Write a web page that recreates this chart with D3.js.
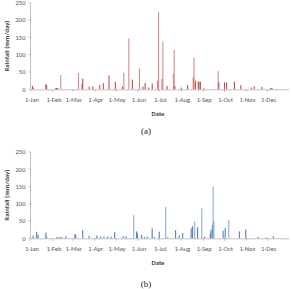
<!DOCTYPE html>
<html><head><meta charset="utf-8">
<script src="https://cdn.jsdelivr.net/npm/d3@7"></script>
<style>body{margin:0;background:#fff}svg{display:block}</style>
</head><body>
<svg id="c" width="291" height="289"></svg>
<script>
const monthLabels = ["1-Jan","1-Feb","1-Mar","1-Apr","1-May","1-Jun","1-Jul","1-Aug","1-Sep","1-Oct","1-Nov","1-Dec"];
const yTicks = [0,50,100,150,200,250];
// chart (a): day-of-year (0 = 1-Jan) and rainfall (mm/day)
const daysA = [2,3,21,22,35,36,37,38,42,67,72,73,82,87,97,102,110,119,129,131,138,143,153,158,161,166,171,179,180,185,186,192,201,202,203,212,221,229,230,232,236,237,239,244,264,265,273,276,287,296,311,315,326,338,340];
const valsA = [10,5,15,12,4,4,4,3,41,47,15,31,8,8,12,18,40,22,8,48,147,28,60,8,18,5,17,25,224,30,138,10,45,114,10,5,12,35,91,25,22,22,22,3,53,20,20,20,22,12,5,8,7,4,4];
// chart (b)
const daysB = [3,8,10,21,22,36,38,40,42,44,49,62,63,73,82,93,98,103,108,113,118,130,134,145,149,150,156,160,164,171,174,181,190,193,204,209,214,226,228,231,235,241,245,253,254,256,257,258,271,274,279,294,303,320,332,342];
const valsB = [8,19,10,17,5,3,3,3,3,3,6,12,10,24,7,8,5,5,5,5,18,6,6,67,20,15,10,4,5,29,4,19,91,3,24,8,15,29,35,50,32,87,5,15,25,40,149,50,22,30,53,20,26,4,3,6];

const svg = d3.select("#c");
const year = 2001;
const dayToDate = d => d3.timeDay.offset(new Date(year,0,1), d);
const x = d3.scaleTime().domain([new Date(year,0,1), new Date(year,11,31)]).range([31, 289]);
const font = "Carlito, 'Liberation Sans', Arial, sans-serif";

function panel(days, vals, top, bottom, fill, light, label, labelY) {
  const y = d3.scaleLinear().domain([0,250]).range([bottom, top]);
  const g = svg.append("g");
  g.append("line").attr("x1",30.5).attr("x2",30.5).attr("y1",top).attr("y2",bottom).attr("stroke","#a6a6a6").attr("stroke-width",0.7);
  g.selectAll(".yt").data(yTicks).join("line").attr("x1",28.5).attr("x2",30.5)
    .attr("y1",d=>y(d)).attr("y2",d=>y(d)).attr("stroke","#a6a6a6").attr("stroke-width",0.7);
  g.selectAll(".yl").data(yTicks).join("text").attr("x",25.5).attr("y",d=>y(d)+2.3)
    .attr("text-anchor","end").attr("font-size",6.6).attr("fill","#595959").attr("font-family",font).text(d=>d);
  const bw = 1.1;
  g.selectAll(".b").data(days.map((d,i)=>({d, v: vals[i]}))).join("rect")
    .attr("x", d => x(dayToDate(d.d)) - bw/2)
    .attr("y", d => y(d.v))
    .attr("width", bw)
    .attr("height", d => bottom - y(d.v))
    .attr("fill", d => d.v > 40 ? light : fill);
  g.append("line").attr("x1",30.5).attr("x2",289).attr("y1",bottom+0.5).attr("y2",bottom+0.5).attr("stroke","#a6a6a6").attr("stroke-width",0.7);
  const months = d3.range(12).map(m => new Date(year,m,1));
  g.selectAll(".xt").data(months).join("line").attr("x1",d=>x(d)).attr("x2",d=>x(d))
    .attr("y1",bottom+0.5).attr("y2",bottom+2.5).attr("stroke","#a6a6a6").attr("stroke-width",0.7);
  g.selectAll(".xl").data(months).join("text").attr("x",d=>x(d)+1).attr("y",bottom+13)
    .attr("text-anchor","middle").attr("font-size",6.6).attr("fill","#595959").attr("font-family",font).text((d,i)=>monthLabels[i]);
  g.append("text").attr("x",158).attr("y",bottom+27).attr("text-anchor","middle").attr("font-size",6.6)
    .attr("font-weight","bold").attr("fill","#404040").attr("font-family",font).text("Date");
  g.append("text").attr("transform",`translate(9,${(top+bottom)/2}) rotate(-90)`).attr("text-anchor","middle")
    .attr("font-size",6.8).attr("font-weight","bold").attr("fill","#404040").attr("font-family",font).text("Rainfall (mm/day)");
  svg.append("text").attr("x",146).attr("y",labelY).attr("text-anchor","middle").attr("font-size",9)
    .attr("fill","#222").attr("font-family","'Liberation Serif', 'DejaVu Serif', serif").text(label);
}
panel(daysA, valsA, 2.8, 89.3, "#c0504d", "#d98b89", "(a)", 134);
panel(daysB, valsB, 152, 238.3, "#4f81bd", "#8eaed6", "(b)", 286.5);
</script>
</body></html>
